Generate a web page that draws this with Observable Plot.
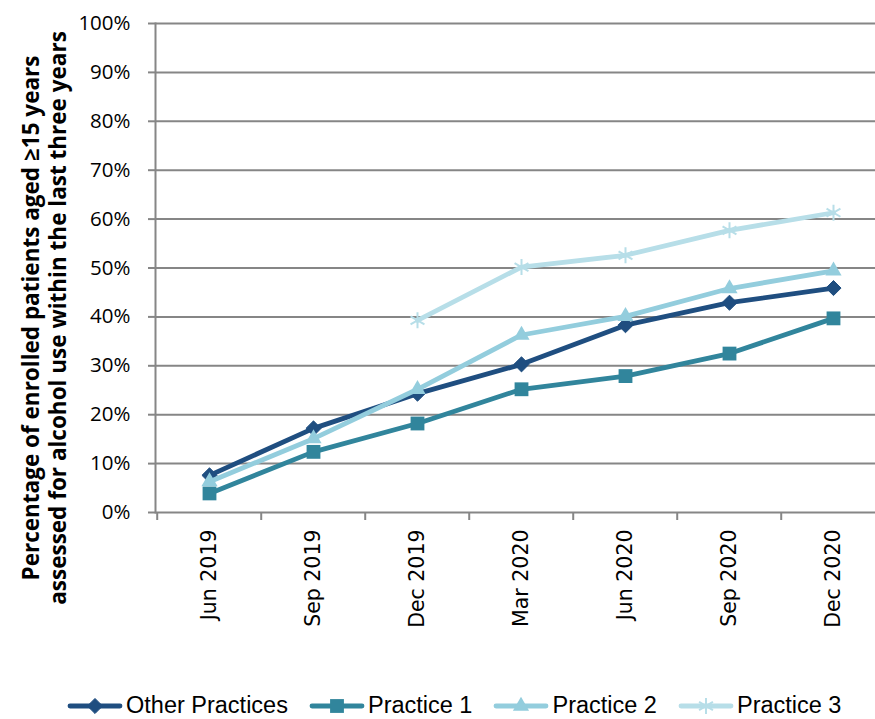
<!DOCTYPE html>
<html><head><meta charset="utf-8">
<script src="https://cdn.jsdelivr.net/npm/d3@7"></script>
<script src="https://cdn.jsdelivr.net/npm/@observablehq/plot@0.6"></script>
<style>
html,body{margin:0;padding:0;background:#fff;overflow:hidden;width:875px;height:719px;position:relative}
#chart svg{display:block;max-width:none !important}
#legend{position:absolute;left:67px;top:695px;width:max-content;height:21px;line-height:21px;display:flex;align-items:center;font-family:"Liberation Sans";font-size:23.5px;color:#000;white-space:nowrap}
.item{display:flex;align-items:center;flex-shrink:0;margin-right:21px;height:21px}
.item svg{display:block;margin-right:3px}
.item span{display:inline-block;line-height:21px;height:21px}
</style></head><body>
<div id="chart"></div><div id="legend"></div>
<script>
const categories = ["Jun 2019","Sep 2019","Dec 2019","Mar 2020","Jun 2020","Sep 2020","Dec 2020"];
const seriesNames = ["Other Practices","Practice 1","Practice 2","Practice 3"];
const otherPractices = [0.076,0.172,0.243,0.303,0.383,0.429,0.459];
const practice1 = [0.039,0.124,0.182,0.252,0.279,0.325,0.397];
const practice2 = [0.063,0.151,0.252,0.363,0.401,0.458,0.494];
const practice3 = [null,null,0.393,0.502,0.526,0.577,0.613];
const yTicks = [0,0.1,0.2,0.3,0.4,0.5,0.6,0.7,0.8,0.9,1];
const yTitle = "Percentage of enrolled patients aged \u226515 years\nassessed for alcohol use within the last three years";

const seriesValues = [otherPractices, practice1, practice2, practice3];
const styles = [
  {color:"#1F4E80", symbol:"diamond2", r:6.8, fill:true, sw:1},
  {color:"#31859C", symbol:"square", r:7.8, fill:true, sw:0},
  {color:"#93CDDD", symbol:"triangle", r:6.0, fill:true, sw:0},
  {color:"#B7DEE8", symbol:"asterisk", r:7.6, fill:false, sw:2}
];

const rows = [];
seriesNames.forEach((s, i) => {
  seriesValues[i].forEach((v, j) => {
    if (v != null) rows.push({series: s, cat: categories[j], value: v});
  });
});

const W = 887, H = 695, ML = 155;
const step = (W - ML) / categories.length;
const grey = "#868686";

const marks = [
  Plot.gridY(yTicks, {stroke: grey, strokeOpacity: 1, strokeWidth: 2}),
  Plot.frame({anchor: "left", stroke: grey, strokeWidth: 2}),
  Plot.ruleX(categories, {x: d => d, y1: 0, y2: 0, insetBottom: -8, dx: -step / 2, stroke: grey, strokeWidth: 2}),
  Plot.axisY(yTicks, {tickFormat: d3.format(".0%"), tickSize: 7, tickPadding: 18, stroke: grey, strokeWidth: 2, fill: "#000", fontSize: 20.5, fontFamily: "Open Sans", label: null}),
  Plot.axisX({tickSize: 0, tickRotate: -90, tickPadding: 17, fill: "#000", fontSize: 20.5, fontFamily: "DejaVu Sans", label: null}),
  Plot.text([yTitle], {text: d => d, frameAnchor: "left", textAnchor: "middle", dx: -111.5, dy: 50, rotate: -90, fontWeight: "bold", fontSize: 22.5, lineHeight: 1.2, fill: "#000", fontFamily: "Open Sans"})
];
seriesNames.forEach((s, i) => {
  const st = styles[i];
  const data = rows.filter(d => d.series === s);
  marks.push(Plot.line(data, {x: "cat", y: "value", stroke: st.color, strokeWidth: 4.8, strokeLinejoin: "round"}));
  marks.push(Plot.dot(data, {x: "cat", y: "value", symbol: st.symbol, r: st.r,
    fill: st.fill ? st.color : "none", stroke: st.color, strokeWidth: st.sw}));
});

const chart = Plot.plot({
  width: W, height: H,
  marginLeft: ML, marginRight: 0, marginTop: 23, marginBottom: H - 512,
  x: {type: "point", domain: categories, padding: 0.5, axis: null},
  y: {domain: [0, 1], axis: null},
  style: {fontFamily: "Open Sans", background: "#fff", overflow: "visible", maxWidth: "none"},
  marks
});
document.getElementById("chart").appendChild(chart);

// legend
const legend = d3.select("#legend");
seriesNames.forEach((s, i) => {
  const st = styles[i];
  const item = legend.append("div").attr("class", "item");
  const svg = item.append("svg").attr("width", 56).attr("height", 20);
  svg.append("line").attr("x1", 3).attr("x2", 53).attr("y1", 10).attr("y2", 10)
    .attr("stroke", st.color).attr("stroke-width", 4.8).attr("stroke-linecap", "round");
  const sym = {diamond2: d3.symbolDiamond2, square: d3.symbolSquare, triangle: d3.symbolTriangle, asterisk: d3.symbolAsterisk}[st.symbol];
  svg.append("path").attr("transform", "translate(28,10)")
    .attr("d", d3.symbol(sym, st.r * st.r * Math.PI)())
    .attr("fill", st.fill ? st.color : "none").attr("stroke", st.color).attr("stroke-width", st.sw);
  item.append("span").text(s);
});
</script>
</body></html>
